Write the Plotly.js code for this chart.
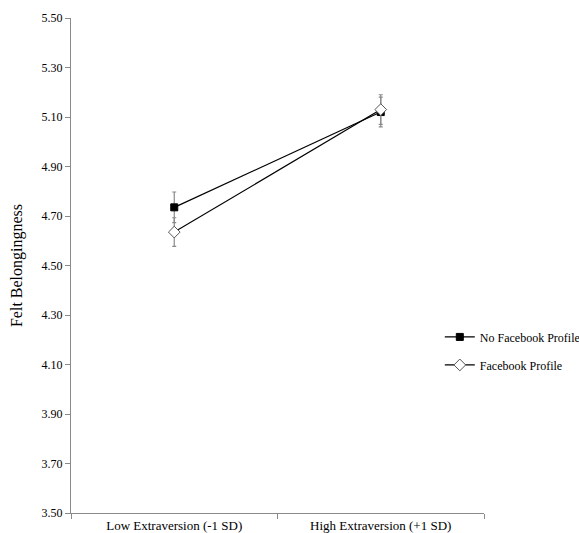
<!DOCTYPE html>
<html><head><meta charset="utf-8">
<script src="https://cdn.plot.ly/plotly-3.0.1.min.js"></script>
<style>html,body{margin:0;padding:0;background:#fff}#chart{width:579px;height:533px}</style>
</head><body><div id="chart"></div>
<script>
const categories = ["Low Extraversion (-1 SD)", "High Extraversion (+1 SD)"];
const noFacebook = [4.735, 5.12];
const noFacebookErr = [0.062, 0.06];
const facebook = [4.635, 5.13];
const facebookErr = [0.058, 0.06];
const yTicks = [3.50, 3.70, 3.90, 4.10, 4.30, 4.50, 4.70, 4.90, 5.10, 5.30, 5.50];

const FAM = "Times New Roman, Liberation Serif, serif";
const traces = [
  {x: categories, y: noFacebook, name: "No Facebook Profile", type: "scatter", mode: "lines+markers",
   legendgroup: "a",
   line: {color: "#000", width: 1.2},
   marker: {symbol: "square", size: 7, color: "#000", line: {color: "#000", width: 1}},
   error_y: {type: "data", array: noFacebookErr, visible: true, color: "#8a8a8a", thickness: 1.2, width: 2}},
  {x: categories, y: facebook, name: "Facebook Profile", type: "scatter", mode: "lines+markers",
   legendgroup: "b",
   line: {color: "#000", width: 1.2},
   marker: {symbol: "diamond", size: 9, color: "#fff", line: {color: "#555", width: 1}},
   error_y: {type: "data", array: facebookErr, visible: true, color: "#8a8a8a", thickness: 1.2, width: 2}}
];
const layout = {
  width: 579, height: 533,
  margin: {l: 71, r: 95, t: 18, b: 20, autoexpand: false},
  paper_bgcolor: "#fff", plot_bgcolor: "#fff",
  font: {family: FAM, size: 12, color: "#000"},
  showlegend: true,
  legend: {x: 0.893, xanchor: "left", y: 0.385, yanchor: "top", bgcolor: "rgba(0,0,0,0)",
           font: {family: FAM, size: 12, color: "#000"}, itemwidth: 30, tracegroupgap: 9, traceorder: "grouped"},
  xaxis: {type: "category", range: [-0.5, 1.5], tickson: "boundaries", ticks: "outside", ticklen: 5,
          tickcolor: "#8a8a8a", showline: true, linecolor: "#8a8a8a", linewidth: 1, showgrid: false,
          zeroline: false, tickfont: {family: FAM, size: 13, color: "#000"}, automargin: false},
  yaxis: {range: [3.5, 5.5], tickvals: yTicks, ticktext: yTicks.map(v => v.toFixed(2)),
          ticks: "outside", ticklen: 5, tickcolor: "#8a8a8a", showline: true, linecolor: "#8a8a8a",
          linewidth: 1, showgrid: false, zeroline: false, tickfont: {family: FAM, size: 12, color: "#000"},
          automargin: false,
          title: {text: "Felt Belongingness", font: {family: FAM, size: 16, color: "#000"}, standoff: 14}}
};
Plotly.newPlot("chart", traces, layout, {displayModeBar: false, staticPlot: true});
</script></body></html>
